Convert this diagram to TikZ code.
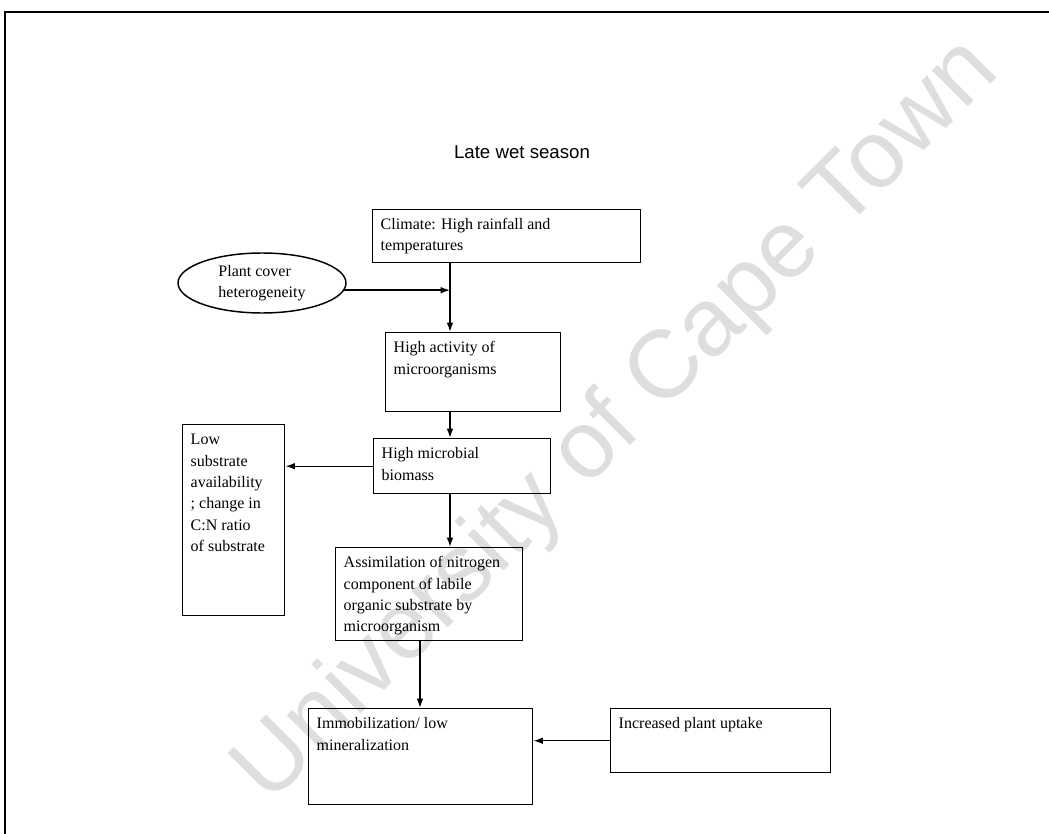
\documentclass[tikz,border=0pt]{standalone}
\usepackage{fontspec}
\setmainfont{Liberation Serif}
\newfontfamily\titlefont{Liberation Sans}
\usetikzlibrary{arrows.meta,shapes.geometric}

% one drawing unit = one pixel of the layout grid
\newdimen\px \px=0.75pt
\newcommand{\boxtext}[3]{\parbox[t][#2\px][t]{#1\px}{\raggedright\strut #3}}

\definecolor{wmgray}{HTML}{DEDEDE}

\begin{document}
\begin{tikzpicture}[x=0.75pt,y=-0.75pt,
  body/.style={font=\fontsize{12}{16}\selectfont},
  flowbox/.style={body, draw, line width=1.1pt, anchor=north west,
                  inner xsep=6pt, inner ysep=3.75pt},
  oval/.style={body, draw, line width=1.1pt, ellipse, align=left,
               minimum width=168\px, minimum height=60\px, inner sep=0pt},
  link/.style={line width=1.1pt, -{Latex[length=7pt,width=5pt]}},
  frameline/.style={line width=1.2pt}]

\useasboundingbox (0,0) rectangle (1049,834);

% watermark
\node[rotate=45, text=wmgray, font=\titlefont\fontsize{72}{72}\selectfont]
  (wm) at (618,422) {University of Cape Town};

% page frame (top and left edges)
\draw[frameline] (5,834) -- (5,12) -- (1049,12);

% title
\node[font=\titlefont\fontsize{14}{16}\selectfont] (title) at (522,152) {Late wet season};

% boxes
\node[flowbox] (clim) at (372,209) {\boxtext{252}{43}{Climate: High rainfall and\\temperatures}};
\node[oval] (pc) at (262,283) {Plant cover\\heterogeneity};
\node[flowbox] (act) at (385,332) {\boxtext{159}{69}{High activity of\\microorganisms}};
\node[flowbox] (bio) at (373,438) {\boxtext{161}{45}{High microbial\\biomass}};
\node[flowbox] (low) at (182,424) {\boxtext{86}{181}{Low\\substrate\\availability\\; change in\\C:N ratio\\of substrate}};
\node[flowbox] (asm) at (335,547) {\boxtext{171}{83}{Assimilation of nitrogen\\component of labile\\organic substrate by\\microorganism}};
\node[flowbox] (imm) at (308,708) {\boxtext{208}{86}{Immobilization/ low\\mineralization}};
\node[flowbox] (inc) at (610,708) {\boxtext{204}{54}{Increased plant uptake}};

% connector columns
\coordinate (jn) at (450,290);
\coordinate (dn) at (420,700);

% connectors
\draw[link] (clim.south -| jn) -- (act.north -| jn);
\draw[link] (pc.-5) -- (pc.-5 -| jn);
\draw[link] (act.south -| jn) -- (bio.north -| jn);
\draw[link] (bio.west) -- (bio.west -| low.east);
\draw[link] (bio.south -| jn) -- (asm.north -| jn);
\draw[link] (asm.south -| dn) -- (imm.north -| dn);
\draw[link] (inc.west) -- (inc.west -| imm.east);

\end{tikzpicture}
\end{document}
